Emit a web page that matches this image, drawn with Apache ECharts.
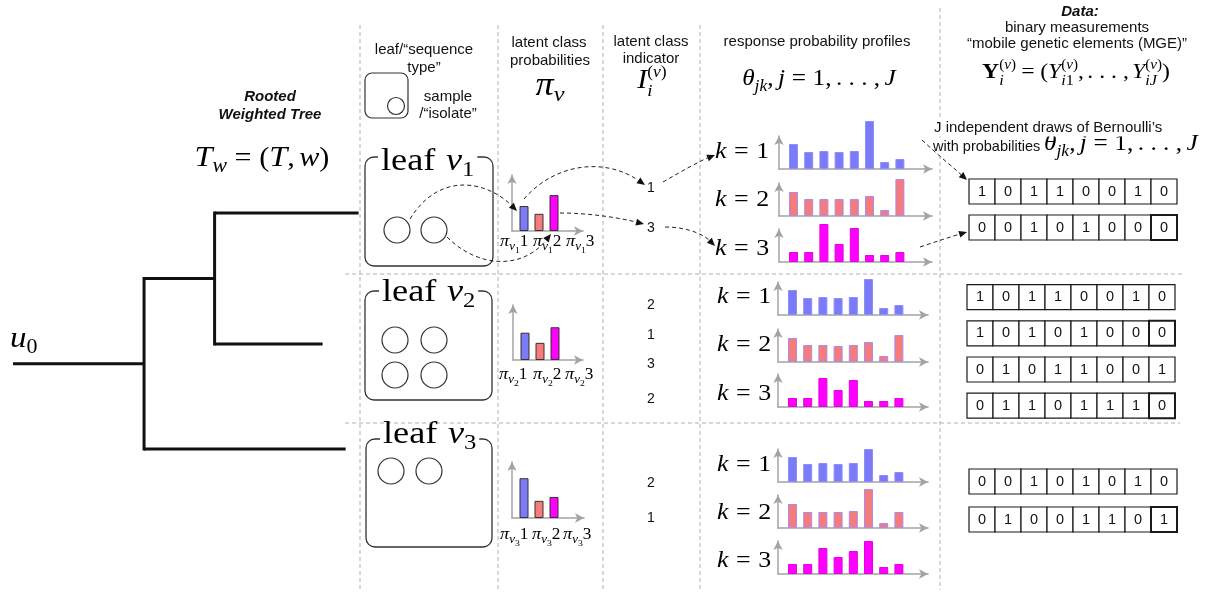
<!DOCTYPE html>
<html><head><meta charset="utf-8">
<script src="https://cdn.jsdelivr.net/npm/echarts@6/dist/echarts.min.js"></script>
<style>html,body{margin:0;padding:0;background:#fff}#c{width:1208px;height:596px}</style>
</head><body><div id="c"></div>
<script>
// ================= DATA =================
const leafNames = ['1', '2', '3'];            // leaf v_1, v_2, v_3
const classLabels = ['1', '2', '3'];          // latent classes k
// latent class probabilities pi_v (per leaf)
const piV1 = [0.32, 0.22, 0.46];
const piV2 = [0.35, 0.22, 0.42];
const piV3 = [0.51, 0.22, 0.27];
// response probability profiles theta_jk, j = 1..8 (per leaf, per class)
const thetaV1K1 = [0.50, 0.34, 0.36, 0.34, 0.36, 0.96, 0.14, 0.20];
const thetaV1K2 = [0.48, 0.34, 0.34, 0.34, 0.34, 0.40, 0.12, 0.74];
const thetaV1K3 = [0.20, 0.20, 0.76, 0.36, 0.68, 0.14, 0.14, 0.20];
const thetaV2K1 = [0.50, 0.34, 0.36, 0.34, 0.36, 0.72, 0.14, 0.20];
const thetaV2K2 = [0.48, 0.34, 0.34, 0.32, 0.34, 0.40, 0.12, 0.54];
const thetaV2K3 = [0.18, 0.18, 0.58, 0.34, 0.54, 0.12, 0.12, 0.18];
const thetaV3K1 = [0.50, 0.36, 0.38, 0.36, 0.38, 0.66, 0.14, 0.20];
const thetaV3K2 = [0.48, 0.32, 0.32, 0.32, 0.34, 0.78, 0.10, 0.32];
const thetaV3K3 = [0.20, 0.20, 0.52, 0.34, 0.46, 0.66, 0.14, 0.20];
// latent class indicators I_i^(v)
const indicatorsV1 = [1, 3];
const indicatorsV2 = [2, 1, 3, 2];
const indicatorsV3 = [2, 1];
// binary measurements Y_i^(v)
const bitsV1 = [[1,0,1,1,0,0,1,0],[0,0,1,0,1,0,0,0]];
const bitsV2 = [[1,0,1,1,0,0,1,0],[1,0,1,0,1,0,0,0],[0,1,0,1,1,0,0,1],[0,1,1,0,1,1,1,0]];
const bitsV3 = [[0,0,1,0,1,0,1,0],[0,1,0,0,1,1,0,1]];
// rooted weighted tree: [parent, child, branch weight]
const treeEdges = [['u0','a',0.91],['a','b',0.49],['b','v1',1.00],['b','v2',0.75],['a','v3',1.40]];

// ================= LAYOUT / STYLE =================
const SANS = '"Liberation Sans", Arial, sans-serif';
const SERIF = '"Liberation Serif", "DejaVu Serif", serif';
const COLORS = [
  {fill:'#7b7bf8', border:'#8d8dff'},
  {fill:'#f77b7b', border:'#a68cf5'},
  {fill:'#ff00ff', border:'#e600e6'}
];
const AXIS_COLOR = '#a3a3a3';
const THETA_PX_PER_UNIT = 50, PI_PX_PER_UNIT = 78;

const G = [];
const mctx = document.createElement('canvas').getContext('2d');
function fontStr(size, flags, fam){return (flags.includes('i')?'italic ':'')+(flags.includes('b')?'bold ':'')+size+'px '+fam;}

function txt(x, y, s, o){
  o = o || {};
  const st = {text:s, x:x, y:y, fill:o.color||'#111', fontSize:o.size||15, fontFamily:o.family||SANS,
    fontStyle:o.italic?'italic':'normal', fontWeight:o.bold?'bold':'normal',
    align:o.align||'center', verticalAlign:'middle'};
  if (o.bg){st.backgroundColor=o.bg; st.padding=[1,2];}
  G.push({type:'text', z:o.z||10, style:st});
}
function math(x, base, segs, align, sc, z){
  const fam = SERIF; sc = sc || 1.1;
  let cx=0, stackStart=0, subEnd=0; const items=[];
  for (const s of segs){
    if (typeof s === 'number'){cx+=s; continue;}
    const t=s[0], size=s[1], dy=s[2], flags=s[3]||'';
    if (flags.includes('S')) stackStart=cx;
    mctx.font=fontStr(size, flags, fam);
    const w=mctx.measureText(t).width;
    items.push({t, size, dy, flags, x:cx});
    cx+=w;
    if (flags.includes('M')){subEnd=cx; cx=stackStart;}
    if (flags.includes('E')){cx=Math.max(cx, subEnd);}
  }
  const W = cx*sc;
  const x0 = align==='center'? x-W/2 : (align==='right'? x-W : x);
  for (const it of items){
    if (!it.t) continue;
    G.push({type:'text', z:z||10, x:x0+it.x*sc, y:0, scaleX:sc, style:{text:it.t, x:0, y:base+it.dy-0.34*it.size,
      fontSize:it.size, fontFamily:fam, fontStyle:it.flags.includes('i')?'italic':'normal',
      fontWeight:it.flags.includes('b')?'bold':'normal', fill:'#000', align:'left', verticalAlign:'middle'}});
  }
  return {x0:x0, w:W};
}
function dashLine(x1,y1,x2,y2){
  G.push({type:'line', z:1, shape:{x1,y1,x2,y2}, style:{stroke:'#b0b0b0', lineWidth:1, lineDash:[4,3]}});
}
function arrowCurve(p){
  const [x1,y1,c1x,c1y,c2x,c2y,x2,y2]=p;
  let dx=x2-c2x, dy=y2-c2y; const L=Math.hypot(dx,dy); dx/=L; dy/=L;
  const len=8, hw=3.5, bx=x2-dx*len, by=y2-dy*len;
  G.push({type:'bezierCurve', z:12, shape:{x1,y1,cpx1:c1x,cpy1:c1y,cpx2:c2x,cpy2:c2y,x2:bx,y2:by},
    style:{stroke:'#222', lineWidth:1, lineDash:[4,3], fill:null}});
  G.push({type:'polygon', z:12, shape:{points:[[x2,y2],[bx-dy*hw,by+dx*hw],[bx+dy*hw,by-dx*hw]]}, style:{fill:'#111'}});
}

// ---------- guide dashed lines ----------
[360,498,603,700].forEach(x=>dashLine(x,25,x,590));
dashLine(940,8,940,590);
dashLine(345,274,1185,274);
dashLine(345,423,1180,423);

// ---------- tree ----------
(function(){
  const X0=13, PX=144, leafY={v1:213, v2:344, v3:449};
  const nodes={u0:{x:X0, children:[]}};
  treeEdges.forEach(([p,c,w])=>{nodes[c]={x:nodes[p].x+w*PX, children:[], parent:p}; nodes[p].children.push(c);});
  function yOf(n){ if(leafY[n]!==undefined) return leafY[n]; const ys=nodes[n].children.map(yOf); return (Math.min(...ys)+Math.max(...ys))/2; }
  const ls={stroke:'#111', lineWidth:3, lineCap:'square'};
  treeEdges.forEach(([p,c])=>{ const y=yOf(c); G.push({type:'line', z:5, shape:{x1:nodes[p].x, y1:y, x2:nodes[c].x, y2:y}, style:Object.assign({},ls,{lineCap:'butt'})}); });
  Object.keys(nodes).forEach(n=>{ const ch=nodes[n].children; if(ch.length>1){ const ys=ch.map(yOf); G.push({type:'line', z:5, shape:{x1:nodes[n].x, y1:Math.min(...ys), x2:nodes[n].x, y2:Math.max(...ys)}, style:ls}); } });
})();
math(10, 349, [['u',30,0,'i'],['0',20,6,'']], 'left', 1.1);

// ---------- headers ----------
txt(270, 97, 'Rooted', {bold:true, italic:true, size:15});
txt(270, 115, 'Weighted Tree', {bold:true, italic:true, size:15});
math(262, 168, [['T',30,0,'i'],['w',20,6,'i'],7,['=',28,0,''],7,['(',28,0,''],['T',30,0,'i'],[',',28,0,''],4,['w',28,0,'i'],[')',28,0,'']], 'center', 1.08);

txt(424, 50, 'leaf/\u201csequence', {size:15});
txt(424, 68, 'type\u201d', {size:15});
G.push({type:'rect', z:5, shape:{x:365, y:73, width:43, height:45, r:7}, style:{fill:'none', stroke:'#333', lineWidth:1.2}});
G.push({type:'circle', z:5, shape:{cx:396, cy:106, r:8.5}, style:{fill:'none', stroke:'#333', lineWidth:1.2}});
txt(448, 97, 'sample', {size:15});
txt(448, 114, '/\u201cisolate\u201d', {size:15});

txt(549, 43, 'latent class', {size:15});
txt(550, 61, 'probabilities', {size:15});
math(550, 98, [['\u03c0',33,0,'i'],['v',22,5,'i']], 'center', 1.1);

txt(651, 42, 'latent class', {size:15});
txt(651, 59, 'indicator', {size:15});
math(652, 90, [['I',27,0,'i'],['i',17,7,'iS'],['',17,7,'M'],['(',16,-12,''],['v',16,-12,'i'],[')',16,-12,'E']], 'center', 1.1);

txt(817, 42, 'response probability profiles', {size:15});
math(819, 87, [['\u03b8',23,0,'i'],['jk',16,5,'i'],[',',23,0,''],4,['j',23,0,'i'],6,['=',23,0,''],6,['1,',23,0,''],4,['. . . ,',23,0,''],4,['J',23,0,'i']], 'center', 1.1);

txt(1080, 12, 'Data:', {bold:true, italic:true, size:15});
txt(1077, 28, 'binary measurements', {size:15});
txt(1077, 44, '\u201cmobile genetic elements (MGE)\u201d', {size:15});
math(1076, 80, [['Y',22,0,'b'],['i',15,6,'iS'],['',15,6,'M'],['(',14,-10,''],['v',14,-10,'i'],[')',14,-10,'E'],5,['=',22,0,''],5,['(',22,0,''],['Y',22,0,'i'],['i',15,6,'iS'],['1',15,6,'M'],['(',14,-10,''],['v',14,-10,'i'],[')',14,-10,'E'],[',',22,0,''],3,['. . . ,',22,0,''],3,['Y',22,0,'i'],['i',15,6,'iS'],['J',15,6,'iM'],['(',14,-10,''],['v',14,-10,'i'],[')',14,-10,'E'],[')',22,0,'']], 'center', 1.08);

txt(932, 128, 'J independent draws of Bernoulli\u2019s', {size:15, align:'left', bg:'#fff', z:11});
txt(931, 147, 'with probabilities', {size:14.5, align:'left', bg:'#fff', z:11});
math(1044, 152, [['\u03b8',23,0,'i'],['jk',16,5,'i'],[',',23,0,''],4,['j',23,0,'i'],6,['=',23,0,''],6,['1,',23,0,''],4,['. . . ,',23,0,''],4,['J',23,0,'i']], 'left', 1.1);

// ---------- leaf boxes ----------
const leafBoxes = [{x:365,y:157,w:128,h:109,base:172,tx:381},{x:365,y:291,w:127,h:109,base:303,tx:382},{x:366,y:439,w:126,h:108,base:445,tx:383}];
const leafCircles = [[[397,230],[434,230]], [[395,340],[434,340],[395,375],[434,375]], [[391,471],[429,471]]];
leafBoxes.forEach((b,i)=>{
  G.push({type:'rect', z:5, shape:{x:b.x, y:b.y, width:b.w, height:b.h, r:9}, style:{fill:'none', stroke:'#333', lineWidth:1.3}});
  const m = math(b.tx, b.base, [['leaf',31,0,''],9,['v',31,0,'i'],[leafNames[i],21,6,'']], 'left', 1.17, 10);
  G.push({type:'rect', z:6, shape:{x:m.x0-3, y:b.y-4, width:m.w+6, height:10}, style:{fill:'#fff'}});
  leafCircles[i].forEach(c=>G.push({type:'circle', z:5, shape:{cx:c[0], cy:c[1], r:13}, style:{fill:'none', stroke:'#333', lineWidth:1.2}}));
});

// ---------- pi labels ----------
const piLabelPos = [{base:247, xs:[500,533,566]},{base:380, xs:[499,533,565]},{base:540, xs:[500,532,563]}];
piLabelPos.forEach((p,i)=>p.xs.forEach((x,k)=>math(x, p.base, [['\u03c0',17,0,'i'],['v',12,4,'i'],[leafNames[i],9,7,''],[classLabels[k],16,0,'']], 'left', 1.08)));

// ---------- indicators ----------
const indicatorY = [[188,228],[305,335,364,399],[483,518]];
[indicatorsV1, indicatorsV2, indicatorsV3].forEach((arr,i)=>arr.forEach((v,j)=>txt(651, indicatorY[i][j], String(v), {size:14, bg:'#fff', z:11})));

// ---------- k labels ----------
const kLabelPos = [{x:715, bases:[160,208,257]},{x:717, bases:[305,353,402]},{x:717, bases:[473,521,569]}];
kLabelPos.forEach(p=>p.bases.forEach((b,k)=>math(p.x, b, [['k',24,0,'i'],7,['=',24,0,''],7,[classLabels[k],24,0,'']], 'left', 1.08)));

// ---------- arrows ----------
[
  [410,219, 440,170, 488,182, 517,211],
  [447,237, 478,268, 522,270, 551,234],
  [524,199, 556,162, 606,158, 645,185],
  [560,213, 590,213, 620,218, 644,224],
  [663,182, 682,171, 700,161, 715,155],
  [665,227, 690,227, 705,236, 715,246],
  [922,140, 938,155, 955,169, 967,180],
  [920,247, 935,242, 950,237, 967,232]
].forEach(arrowCurve);

// ================= CHARTS (grids) =================
const grids=[], xAxes=[], yAxes=[], series=[];
function axisBase(){
  return {show:true, axisLine:{show:true, onZero:false, symbol:['none','arrow'], symbolSize:[7,9], lineStyle:{color:AXIS_COLOR, width:1.5}},
    axisTick:{show:false}, axisLabel:{show:false}, splitLine:{show:false}};
}
function addBarChart(g, values, colorFn, borderColorFn, firstOffset, spacing, pxPerUnit, bw){
  const idx = grids.length;
  grids.push({left:g.left, top:g.base-g.h, width:g.w, height:g.h, containLabel:false});
  const xmin = 1 - firstOffset/spacing;
  xAxes.push(Object.assign(axisBase(), {type:'value', gridIndex:idx, min:xmin, max:xmin + g.w/spacing}));
  yAxes.push(Object.assign(axisBase(), {type:'value', gridIndex:idx, min:0, max:g.h/pxPerUnit}));
  series.push({type:'bar', xAxisIndex:idx, yAxisIndex:idx, barWidth:bw, clip:false, animation:false, silent:true,
    data: values.map((v,j)=>({value:[j+1, v], itemStyle:{color:colorFn(j), borderColor:borderColorFn(j), borderWidth:1}}))});
}
// pi charts
const piGrids = [{left:512, base:231, h:56, w:71},{left:513, base:360, h:55, w:70},{left:512, base:518, h:56, w:72}];
[piV1, piV2, piV3].forEach((vals,i)=>addBarChart(piGrids[i], vals, j=>COLORS[j].fill, j=>'#333', 12, 15, PI_PX_PER_UNIT, 9));
// theta charts
const thetaSets = [[thetaV1K1,thetaV1K2,thetaV1K3],[thetaV2K1,thetaV2K2,thetaV2K3],[thetaV3K1,thetaV3K2,thetaV3K3]];
const thetaLayout = [{left:779, w:153, bases:[169,216,262]},{left:778, w:150, bases:[315,362,407]},{left:778, w:150, bases:[482,528,574]}];
thetaSets.forEach((set,i)=>set.forEach((vals,k)=>{
  const L=thetaLayout[i];
  addBarChart({left:L.left, base:L.bases[k], h:33, w:L.w}, vals, ()=>COLORS[k].fill, ()=>COLORS[k].border, 14.5, 15.2, THETA_PX_PER_UNIT, 9);
}));

// bit-string grids (custom series on category axes)
const bitLayout = [{left:969, top:173.5, rowH:36, w:208},{left:967, top:279, rowH:36.2, w:208},{left:969, top:462.5, rowH:38, w:208}];
[bitsV1, bitsV2, bitsV3].forEach((rows,i)=>{
  const L=bitLayout[i], idx=grids.length;
  grids.push({left:L.left, top:L.top, width:L.w, height:L.rowH*rows.length, containLabel:false});
  xAxes.push({type:'category', gridIndex:idx, show:false, data:rows[0].map((_,j)=>'j'+(j+1))});
  yAxes.push({type:'category', gridIndex:idx, show:false, inverse:true, data:rows.map((_,r)=>'i'+(r+1))});
  const data=[]; rows.forEach((row,r)=>row.forEach((v,c)=>data.push([c,r,v])));
  series.push({type:'custom', xAxisIndex:idx, yAxisIndex:idx, silent:true, animation:false, data:data,
    renderItem:function(params, api){
      const c=api.value(0), r=api.value(1), v=api.value(2);
      const pt=api.coord([c,r]); const w=api.size([1,1])[0]; const h=25;
      const thick = (r%2===1 && c===rows[0].length-1);
      return {type:'group', children:[
        {type:'rect', shape:{x:pt[0]-w/2, y:pt[1]-h/2, width:w, height:h}, style:{fill:'#fff', stroke:'#1a1a1a', lineWidth:thick?2:1.2}},
        {type:'text', style:{text:String(v), x:pt[0], y:pt[1], align:'center', verticalAlign:'middle', fontSize:14.5, fontFamily:SANS, fill:'#111'}}
      ]};
    }});
});

const chart = echarts.init(document.getElementById('c'), null, {renderer:'canvas'});
chart.setOption({
  backgroundColor:'#fff',
  animation:false,
  grid:grids, xAxis:xAxes, yAxis:yAxes, series:series,
  graphic:{elements:G}
});
</script>
</body></html>
